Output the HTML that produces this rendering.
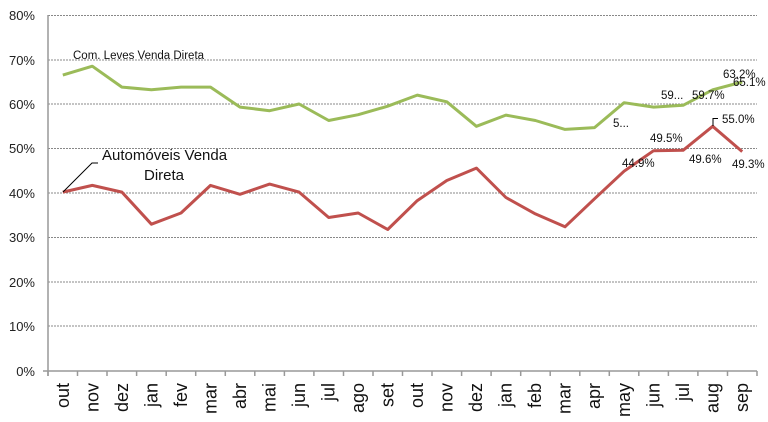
<!DOCTYPE html>
<html><head><meta charset="utf-8"><style>body{margin:0;background:#fff}svg{display:block}</style></head><body>
<svg width="768" height="422" xmlns="http://www.w3.org/2000/svg" font-family="Liberation Sans, DejaVu Sans, sans-serif">
<g stroke="#888" stroke-width="1" stroke-dasharray="2,1">
<line x1="48" x2="757" y1="15.5" y2="15.5"/><line x1="48" x2="757" y1="60" y2="60"/><line x1="48" x2="757" y1="104" y2="104"/><line x1="48" x2="757" y1="148.5" y2="148.5"/><line x1="48" x2="757" y1="193" y2="193"/><line x1="48" x2="757" y1="237.5" y2="237.5"/><line x1="48" x2="757" y1="282" y2="282"/><line x1="48" x2="757" y1="326" y2="326"/>
</g>
<g stroke="#999" stroke-width="1.5">
<line x1="48" y1="15" x2="48" y2="376"/><line x1="43" y1="371" x2="757" y2="371"/>
<path d="M48 371v5M77.5 371v5M107 371v5M136.6 371v5M166.2 371v5M195.7 371v5M225.3 371v5M254.8 371v5M284.4 371v5M313.9 371v5M343.5 371v5M373 371v5M402.5 371v5M432 371v5M461.6 371v5M491.1 371v5M520.7 371v5M550.2 371v5M579.8 371v5M609.3 371v5M638.8 371v5M668.4 371v5M697.9 371v5M727.5 371v5M757 371v5"/>
</g>
<g font-size="13" fill="#222" text-anchor="end">
<text x="35" y="20">80%</text><text x="35" y="65">70%</text><text x="35" y="109">60%</text><text x="35" y="153">50%</text><text x="35" y="198">40%</text><text x="35" y="242">30%</text><text x="35" y="287">20%</text><text x="35" y="331">10%</text><text x="35" y="376">0%</text>
</g>
<g font-size="18" fill="#111" text-anchor="end">
<text transform="translate(69,383) rotate(-90)">out</text><text transform="translate(98.5,383) rotate(-90)">nov</text><text transform="translate(128,383) rotate(-90)">dez</text><text transform="translate(157.5,383) rotate(-90)">jan</text><text transform="translate(187,383) rotate(-90)">fev</text><text transform="translate(216.5,383) rotate(-90)">mar</text><text transform="translate(246,383) rotate(-90)">abr</text><text transform="translate(275.5,383) rotate(-90)">mai</text><text transform="translate(305,383) rotate(-90)">jun</text><text transform="translate(334.5,383) rotate(-90)">jul</text><text transform="translate(364,383) rotate(-90)">ago</text><text transform="translate(393.5,383) rotate(-90)">set</text><text transform="translate(423,383) rotate(-90)">out</text><text transform="translate(452.5,383) rotate(-90)">nov</text><text transform="translate(482,383) rotate(-90)">dez</text><text transform="translate(511.5,383) rotate(-90)">jan</text><text transform="translate(541,383) rotate(-90)">feb</text><text transform="translate(570.5,383) rotate(-90)">mar</text><text transform="translate(600,383) rotate(-90)">apr</text><text transform="translate(630,383) rotate(-90)">may</text><text transform="translate(659.5,383) rotate(-90)">jun</text><text transform="translate(689,383) rotate(-90)">jul</text><text transform="translate(718.5,383) rotate(-90)">aug</text><text transform="translate(748,383) rotate(-90)">sep</text>
</g>
<polyline fill="none" stroke="#9BBB59" stroke-width="3" stroke-linejoin="round" points="62.8,75.1 92.3,66.2 121.9,87.1 151.4,89.8 181,87.1 210.5,87.1 240,107.1 269.6,110.7 299.1,104 328.7,120.5 358.2,114.7 387.7,106.2 417.3,95.1 446.8,101.8 476.4,126.3 505.9,115.1 535.4,120.5 565,129.4 594.5,127.6 624.1,102.7 653.6,107.1 683.1,105.3 712.7,89.8 742.2,82"/>
<polyline fill="none" stroke="#C0504D" stroke-width="3" stroke-linejoin="round" points="62.8,192.1 92.3,185.4 121.9,192.1 151.4,224.2 181,213 210.5,185.4 240,194.3 269.6,184.1 299.1,192.1 328.7,217.5 358.2,213 387.7,229.5 417.3,200.6 446.8,180.5 476.4,168.1 505.9,197.5 535.4,213.9 565,226.8 594.5,198.8 624.1,171.2 653.6,150.7 683.1,150.3 712.7,126.3 742.2,151.6"/>
<polyline fill="none" stroke="#000" stroke-width="1" points="63,192 92,163 98,163"/>
<polyline fill="none" stroke="#000" stroke-width="1" points="713,126 713,118.5 718,118.5"/>
<text x="73" y="59" font-size="11.5" fill="#111">Com. Leves Venda Direta</text>
<text x="102" y="160" font-size="15" fill="#111">Automóveis Venda</text>
<text x="144" y="180" font-size="15" fill="#111">Direta</text>
<g font-size="11.5" fill="#111">
<text x="613" y="127">5...</text><text x="661" y="99">59...</text><text x="692" y="99">59.7%</text><text x="723" y="78">63.2%</text><text x="733" y="86">65.1%</text><text x="722" y="123">55.0%</text><text x="650" y="142">49.5%</text><text x="622" y="167">44.9%</text><text x="689" y="163">49.6%</text><text x="732" y="168">49.3%</text>
</g>
</svg>
</body></html>
